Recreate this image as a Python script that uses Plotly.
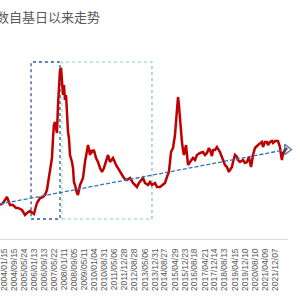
import datetime as dt
import plotly.graph_objects as go

# Index level (x in decimal years)
years = [2003.78, 2003.98, 2004.24, 2004.44, 2004.64, 2004.84, 2004.97, 2005.23, 2005.43, 2005.56,
         2005.76, 2005.89, 2006.02, 2006.22, 2006.42, 2006.62, 2006.75, 2006.88, 2006.95, 2007.08,
         2007.21, 2007.28, 2007.34, 2007.41, 2007.54, 2007.61, 2007.67, 2007.74, 2007.81, 2007.87,
         2007.94, 2008.00, 2008.07, 2008.14, 2008.20, 2008.27, 2008.33, 2008.40, 2008.53, 2008.60,
         2008.66, 2008.73, 2008.86, 2008.93, 2009.06, 2009.19, 2009.26, 2009.39, 2009.52, 2009.59,
         2009.72, 2009.79, 2009.85, 2009.98, 2010.12, 2010.25, 2010.38, 2010.51, 2010.64, 2010.71,
         2010.84, 2010.91, 2011.04, 2011.17, 2011.24, 2011.44, 2011.57, 2011.70, 2011.83, 2011.96,
         2012.16, 2012.36, 2012.56, 2012.69, 2012.82, 2012.95, 2013.09, 2013.22, 2013.35, 2013.55,
         2013.68, 2013.81, 2014.01, 2014.14, 2014.34, 2014.54, 2014.67, 2014.80, 2014.93, 2015.07,
         2015.20, 2015.33, 2015.46, 2015.53, 2015.59, 2015.66, 2015.79, 2015.86, 2015.92, 2016.06,
         2016.19, 2016.32, 2016.52, 2016.65, 2016.78, 2016.98, 2017.18, 2017.31, 2017.44, 2017.57,
         2017.64, 2017.77, 2017.84, 2017.97, 2018.10, 2018.30, 2018.43, 2018.50, 2018.63, 2018.76,
         2018.89, 2018.96, 2019.09, 2019.16, 2019.29, 2019.42, 2019.49, 2019.62, 2019.82, 2019.95,
         2020.08, 2020.21, 2020.35, 2020.48, 2020.61, 2020.81, 2020.94, 2021.07, 2021.14, 2021.27,
         2021.40, 2021.47, 2021.60, 2021.73, 2021.80, 2021.93, 2022.13, 2022.26, 2022.33, 2022.39,
         2022.46, 2022.59, 2022.72]
index_values = [1000, 1080, 1320, 1000, 1000, 880, 880, 800, 600, 680,
                760, 680, 640, 1080, 1280, 1320, 1400, 1600, 1920, 2480,
                2880, 3680, 4200, 4320, 3880, 5000, 5680, 6400, 6480, 5920,
                5400, 5800, 5200, 5400, 4600, 3920, 3680, 3000, 2720, 2480,
                1920, 1800, 1480, 1400, 1800, 2000, 2080, 2720, 3200, 3400,
                3000, 3200, 3120, 3200, 2880, 2720, 2480, 2320, 2480, 2600,
                2880, 3000, 2720, 2800, 2880, 2600, 2480, 2320, 2200, 2080,
                2000, 2080, 1880, 1800, 1720, 1880, 2000, 2080, 1880, 1800,
                1920, 1800, 1880, 1720, 1720, 1800, 1880, 2120, 2320, 3120,
                3280, 3800, 4720, 5320, 5000, 4320, 3520, 3200, 3000, 3400,
                2600, 2720, 2880, 2800, 3000, 3080, 3120, 3000, 3080, 3280,
                3200, 2960, 3200, 3200, 3320, 3120, 2920, 2800, 2600, 2520,
                2320, 2400, 2520, 2720, 3000, 2920, 2800, 2720, 2800, 2680,
                2720, 2920, 2520, 3000, 3280, 3400, 3480, 3520, 3320, 3520,
                3520, 3400, 3520, 3560, 3480, 3560, 3560, 3320, 3000, 2800,
                3080, 3200, 3280]

# Linear trend (start / end)
trend_years = [2003.78, 2022.72]
trend_values = [1040, 3220]

tick_labels = ["2004/01/15", "2004/09/15", "2005/05/24", "2006/01/13", "2006/09/13",
               "2007/05/22", "2008/01/11", "2008/09/05", "2009/05/11", "2010/01/04",
               "2010/08/31", "2011/05/06", "2011/12/28", "2012/08/28", "2013/05/06",
               "2013/12/31", "2014/08/27", "2015/04/29", "2015/12/23", "2016/08/18",
               "2017/04/21", "2017/12/14", "2018/08/13", "2019/04/15", "2019/12/10",
               "2020/08/10", "2021/04/09", "2021/12/07"]

title_text = "指数自基日以来走势"


def to_year(s):
    d = dt.datetime.strptime(s, "%Y/%m/%d")
    return d.year + (d.timetuple().tm_yday - 1) / 365.25


tick_vals = [to_year(s) for s in tick_labels]

fig = go.Figure()
fig.add_trace(go.Scatter(x=years, y=index_values, mode="lines",
                         line=dict(color="#C00000", width=2.5), showlegend=False))
fig.add_trace(go.Scatter(x=trend_years, y=trend_values, mode="lines+markers",
                         line=dict(color="#2E75B6", width=1.3, dash="4px,2px"),
                         marker=dict(symbol=["circle", "triangle-right-open"], size=[0, 9],
                                     color="#1F4E79", line=dict(width=1.5, color="#1F4E79")),
                         cliponaxis=False, showlegend=False))

# highlighted periods
fig.add_shape(type="rect", xref="x", yref="y", x0=2005.83, x1=2007.74, y0=440, y1=6720,
              line=dict(color="#2F5597", width=1.3, dash="dot"), layer="below")
fig.add_shape(type="rect", xref="x", yref="y", x0=2007.87, x1=2013.81, y0=440, y1=6720,
              line=dict(color="#A8E3CC", width=1.3, dash="dot"), layer="below")
fig.add_shape(type="line", xref="x", yref="y", x0=2013.81, x1=2013.81, y0=440, y1=6720,
              line=dict(color="#A9CCE3", width=1.3, dash="dot"), layer="below")

fig.add_annotation(text=title_text, xref="paper", yref="paper", x=-19 / 288, y=1.12,
                   xanchor="left", yanchor="middle", showarrow=False,
                   font=dict(family="Noto Sans CJK SC", size=13, color="#595959"))

fig.update_layout(
    width=300, height=300,
    margin=dict(l=0, r=12, t=40, b=61),
    paper_bgcolor="white", plot_bgcolor="white",
    xaxis=dict(range=[2003.78, 2022.79], tickmode="array", tickvals=tick_vals,
               ticktext=tick_labels, tickangle=-90, showgrid=False, zeroline=False,
               showline=True, linecolor="#D9D9D9", linewidth=1, ticks="",
               ticklabelstandoff=5, ticklabeloverflow="allow",
               tickfont=dict(family="Liberation Sans", size=8.5, color="#595959")),
    yaxis=dict(range=[-360, 7600], visible=False, showgrid=False),
)

fig.write_html("out.html")
